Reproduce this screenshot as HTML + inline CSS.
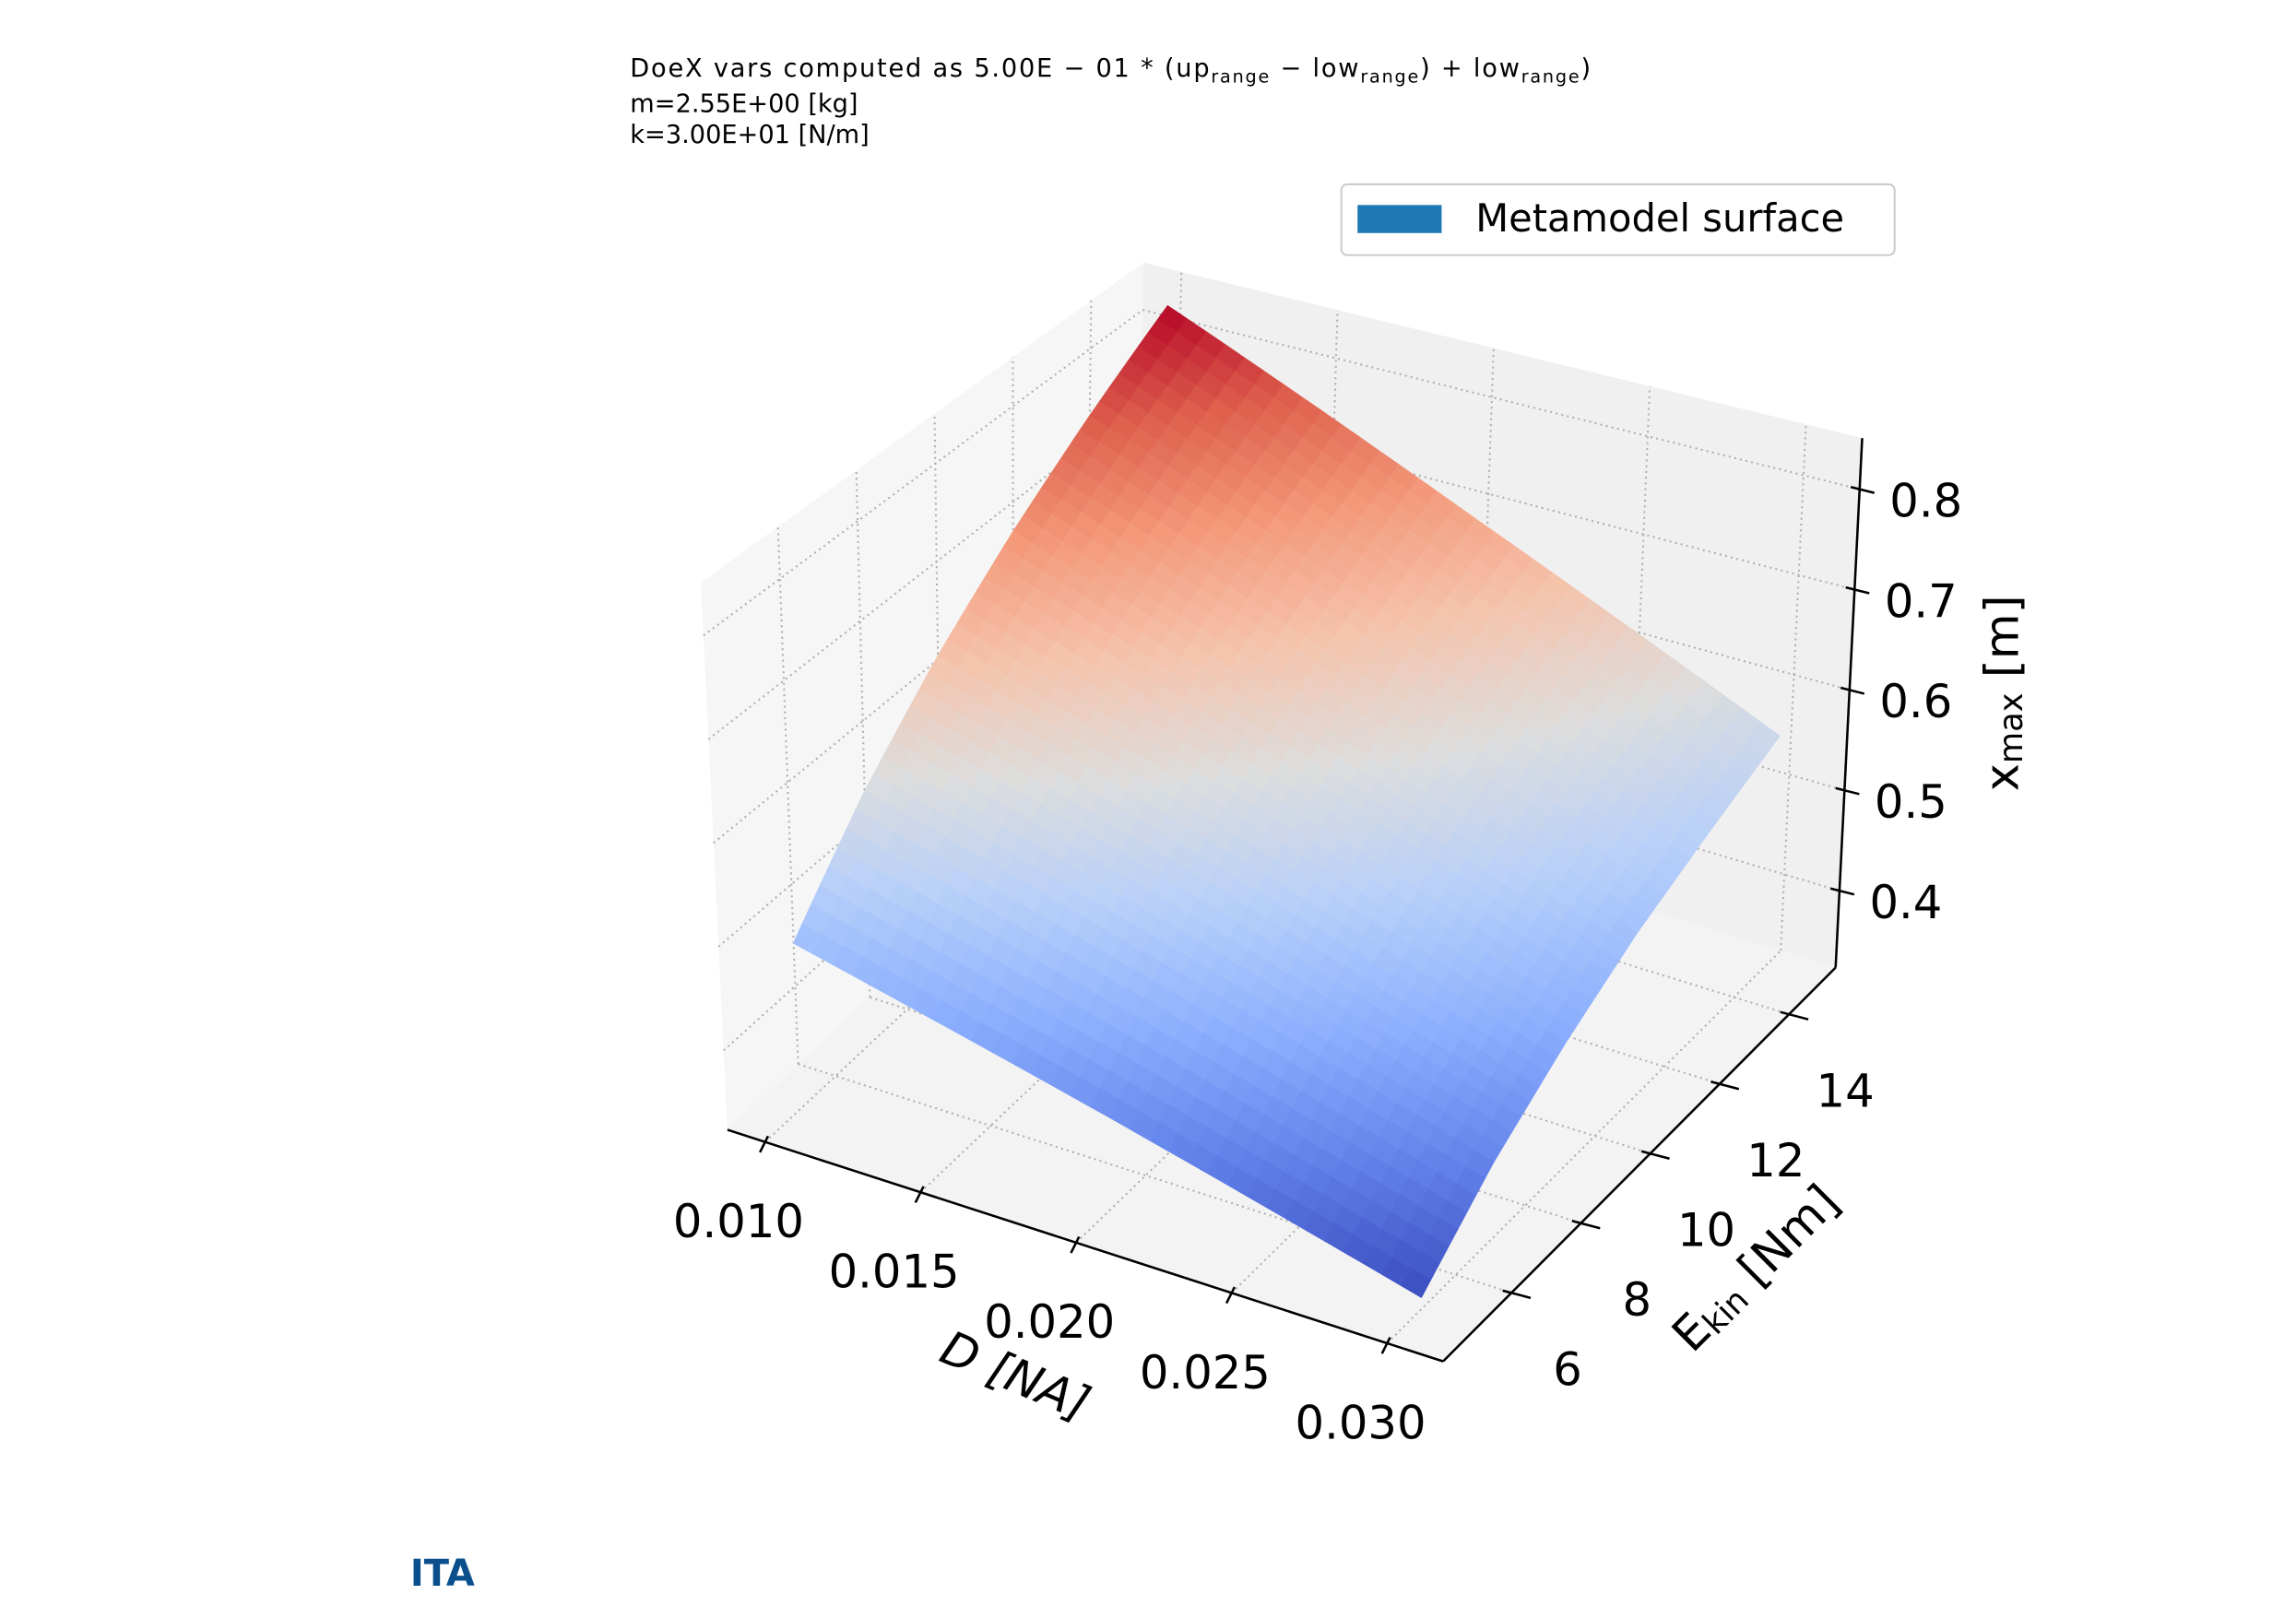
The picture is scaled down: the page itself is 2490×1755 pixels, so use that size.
<!DOCTYPE html>
<html><head><meta charset="utf-8"><style>
html,body{margin:0;padding:0;background:#fff;}
svg{display:block;font-family:"DejaVu Sans","Liberation Sans",sans-serif;}
</style></head><body>
<svg id="chart" width="2490" height="1755" viewBox="0 0 1556 1097" preserveAspectRatio="none" xmlns="http://www.w3.org/2000/svg">
<g font-size="17" fill="#000">
<text x="427" y="52" textLength="651" lengthAdjust="spacing">DoeX vars computed as 5.00E − 01 * (up<tspan font-size="12" dy="4">range</tspan><tspan dy="-4"> − low</tspan><tspan font-size="12" dy="4">range</tspan><tspan dy="-4">) + low</tspan><tspan font-size="12" dy="4">range</tspan><tspan dy="-4">)</tspan></text>
<text x="427" y="76">m=2.55E+00 [kg]</text>
<text x="427" y="97">k=3.00E+01 [N/m]</text>
</g>
<g id="panes"></g>
<g id="grid"></g>
<g id="surf"></g>
<g id="axes"></g>
<g>
<rect x="909" y="125" width="375" height="48" rx="4" fill="#fff" fill-opacity="0.85" stroke="#cccccc" stroke-width="1.3"/>
<rect x="920" y="139" width="57" height="19" fill="#1f77b4"/>
<text x="1000" y="157" font-size="26">Metamodel surface</text>
</g>
<text x="278" y="1075" font-size="25" font-weight="bold" fill="#0b4f8c">ITA</text>
</svg>
<script>
const dTicks=[0.010,0.015,0.020,0.025,0.030];
const eTicks=[6,8,10,12,14];
const zTicks=[0.4,0.5,0.6,0.7,0.8];
const dVals=[0.010,0.015,0.020,0.025,0.030];
const eVals=[5,7,9,11,13,15];
const zRow0=[0.485,0.572,0.646,0.711,0.770,0.825];
const zRow1=[0.448,0.528,0.596,0.655,0.707,0.755];
const zRow2=[0.411,0.485,0.546,0.599,0.644,0.685];
const zRow3=[0.373,0.441,0.496,0.543,0.581,0.617];
const zRow4=[0.335,0.398,0.447,0.488,0.520,0.550];
const zGrid=[zRow0,zRow1,zRow2,zRow3,zRow4];

const NS="http://www.w3.org/2000/svg";
const Dlo=0.00879,Dhi=0.0318,Elo=4.03,Ehi=15.34,Zlo=0.3235,Zhi=0.851;
const C={FL:[493,766],FR:[978,923],BL:[768,510],BR:[1244,656],TL:[475,395],TF:[996,540],TB:[775,178],TR:[1262,297]};
function lerp(a,b,t){return [a[0]+(b[0]-a[0])*t,a[1]+(b[1]-a[1])*t];}
function projN(u,v,w){
  const b0=lerp(lerp(C.FL,C.FR,u),lerp(C.BL,C.BR,u),v);
  const b1=lerp(lerp(C.TL,C.TF,u),lerp(C.TB,C.TR,u),v);
  return lerp(b0,b1,w);
}
function xs(d){return (d-Dlo)/(Dhi-Dlo);}
function ys(e){return (e-Elo)/(Ehi-Elo);}
function zs(z){return (z-Zlo)/(Zhi-Zlo);}
function proj(d,e,z){return projN(xs(d),ys(e),zs(z));}
function mk(tag,parent,attrs){const el=document.createElementNS(NS,tag);for(const k in attrs)el.setAttribute(k,attrs[k]);parent.appendChild(el);return el;}
function pts(a){return a.map(p=>p[0].toFixed(2)+","+p[1].toFixed(2)).join(" ");}

const panes=document.getElementById('panes');
let p=mk('polygon',panes,{points:pts([C.FL,C.FR,C.BR,C.BL]),fill:'#f3f3f3'});


p=mk('polygon',panes,{points:pts([C.FL,C.BL,C.TB,C.TL]),fill:'#f6f6f6'});


p=mk('polygon',panes,{points:pts([C.BL,C.BR,C.TR,C.TB]),fill:'#f0f0f0'});



const grid=document.getElementById('grid');
function gl(a,b,name){const l=mk('line',grid,{x1:a[0],y1:a[1],x2:b[0],y2:b[1],stroke:'#b0b0b0','stroke-width':1.3,'stroke-dasharray':'1.3 2.6'});

}
dTicks.forEach(d=>{const u=xs(d);gl(projN(u,0,0),projN(u,1,0),'grid-d-floor');gl(projN(u,1,0),projN(u,1,1),'grid-d-back');});
eTicks.forEach(e=>{const v=ys(e);gl(projN(0,v,0),projN(1,v,0),'grid-e-floor');gl(projN(0,v,0),projN(0,v,1),'grid-e-left');});
zTicks.forEach(z=>{const w=zs(z);gl(projN(0,0,w),projN(0,1,w),'grid-z-left');gl(projN(0,1,w),projN(1,1,w),'grid-z-back');});

const cw=[[0,59,76,192],[0.125,98,130,234],[0.25,141,176,254],[0.375,184,208,249],[0.5,221,221,221],[0.625,245,196,173],[0.75,244,154,123],[0.875,222,96,77],[1,180,4,38]];
function cmap(t){t=Math.max(0,Math.min(1,t));for(let i=1;i<cw.length;i++){if(t<=cw[i][0]){const a=cw[i-1],b=cw[i],f=(t-a[0])/(b[0]-a[0]);return 'rgb('+[1,2,3].map(k=>Math.round(a[k]+(b[k]-a[k])*f)).join(',')+')';}}return 'rgb(180,4,38)';}
let zmin=Infinity,zmax=-Infinity;zGrid.forEach(r=>r.forEach(z=>{zmin=Math.min(zmin,z);zmax=Math.max(zmax,z);}));
const surf=document.getElementById('surf');
const S=8;
function zAt(i,j,a,b){const z00=zGrid[i][j],z10=zGrid[i+1][j],z01=zGrid[i][j+1],z11=zGrid[i+1][j+1];return z00*(1-a)*(1-b)+z10*a*(1-b)+z01*(1-a)*b+z11*a*b;}
for(let j=eVals.length-2;j>=0;j--){for(let i=0;i<dVals.length-1;i++){
  for(let sb=S-1;sb>=0;sb--){for(let sa=0;sa<S;sa++){
    const a0=sa/S,a1=(sa+1)/S,b0=sb/S,b1=(sb+1)/S;
    const P=(a,b)=>proj(dVals[i]+(dVals[i+1]-dVals[i])*a,eVals[j]+(eVals[j+1]-eVals[j])*b,zAt(i,j,a,b));
    const zc=zAt(i,j,(a0+a1)/2,(b0+b1)/2);
    const col=cmap((zc-zmin)/(zmax-zmin));
    const q=mk('polygon',surf,{points:pts([P(a0,b0),P(a1,b0),P(a1,b1),P(a0,b1)]),fill:col,stroke:col,'stroke-width':0.7,'stroke-linejoin':'round'});
    
    
  }}
}}

const axes=document.getElementById('axes');
function ln(a,b,name,w){const l=mk('line',axes,{x1:a[0],y1:a[1],x2:b[0],y2:b[1],stroke:'#000','stroke-width':w||1.6});

}
function tx(x,y,s,name,size,rot,extra){const t=mk('text',axes,{x:x,y:y,'font-size':size||31,'text-anchor':'middle','dominant-baseline':'central'});
t.textContent=s;
if(rot)t.setAttribute('transform','rotate('+rot+' '+x+' '+y+')');
if(extra)for(const k in extra)t.setAttribute(k,extra[k]);


return t;}
ln(C.FL,C.FR,'d-axis-line');ln(C.FR,C.BR,'e-axis-line');ln(C.BR,C.TR,'z-axis-line');
dTicks.forEach(d=>{const q=projN(xs(d),0,0);ln([q[0]+2,q[1]-4],[q[0]-3.5,q[1]+7],'d-tick');
  tx(q[0]-18,q[1]+54,d.toFixed(3),'d-tick-label');});
eTicks.forEach(e=>{const q=projN(1,ys(e),0);ln([q[0]-6,q[1]-1.5],[q[0]+13,q[1]+3.5],'e-tick');
  tx(q[0]+38,q[1]+52,String(e),'e-tick-label');});
zTicks.forEach(z=>{const q=projN(1,1,zs(z));ln([q[0]-6,q[1]-1.5],[q[0]+10,q[1]+2.5],'z-tick');
  tx(q[0]+45,q[1]+8,z.toFixed(1),'z-tick-label');});
tx(688,933,'D [NA]','d-axis-title',32,23,{'font-style':'italic'});
const et=tx(1190,860,'E','e-axis-title',32,-45);
const sub=document.createElementNS(NS,'tspan');sub.setAttribute('font-size','22');sub.setAttribute('dy','6');sub.textContent='kin';et.appendChild(sub);
const rest=document.createElementNS(NS,'tspan');rest.setAttribute('dy','-6');rest.textContent=' [Nm]';et.appendChild(rest);
const zt=tx(1357,470,'x','z-axis-title',32,-90);
const zsub=document.createElementNS(NS,'tspan');zsub.setAttribute('font-size','22');zsub.setAttribute('dy','6');zsub.textContent='max';zt.appendChild(zsub);
const zrest=document.createElementNS(NS,'tspan');zrest.setAttribute('dy','-6');zrest.textContent=' [m]';zt.appendChild(zrest);
</script>
</body></html>
